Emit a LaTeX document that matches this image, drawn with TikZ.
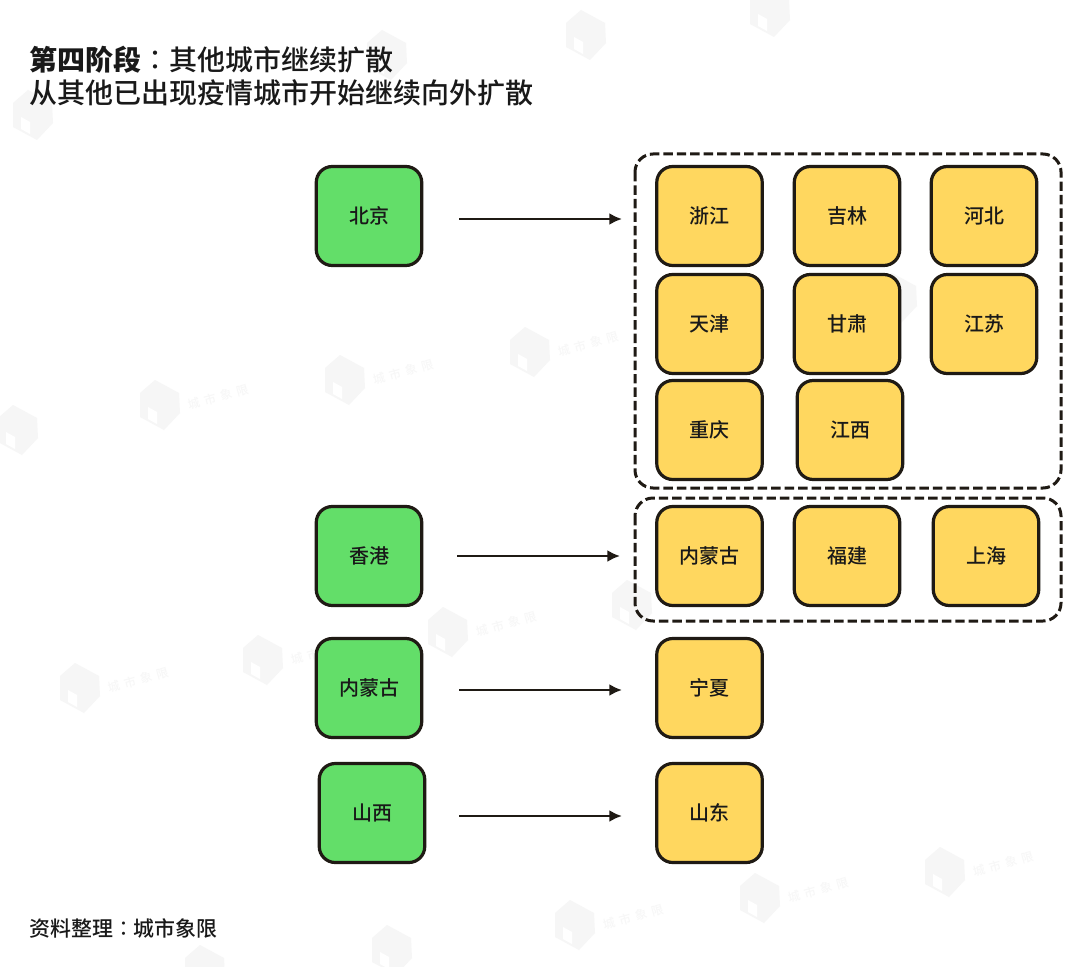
\documentclass[tikz,border=0pt]{standalone}
\usepackage{fontspec}
\setmainfont{Noto Sans CJK SC Medium}
\newfontfamily\cjkbold{Noto Sans CJK SC Black}
\newfontfamily\cjkcolon{Noto Sans CJK TC}
\usetikzlibrary{arrows.meta}
\definecolor{boxline}{HTML}{1F1A14}
\definecolor{ygfill}{HTML}{FFD75F}
\definecolor{grfill}{HTML}{63DE69}
\definecolor{wmark}{HTML}{F6F6F6}
\definecolor{wtext}{HTML}{F7F7F7}
\tikzset{
  cell/.style={draw=boxline,line width=3.2*0.75pt,rounded corners=16*0.75pt,minimum width=105.5*0.75pt,minimum height=99*0.75pt,inner sep=0pt,font=\fontsize{15}{15}\selectfont,text=black!90},
  dest/.style={cell,fill=ygfill},
  src/.style={cell,fill=grfill},
  grp/.style={draw=boxline,line width=3*0.75pt,dash pattern=on 7.1pt off 3pt,rounded corners=18*0.75pt},
  link/.style={draw=boxline,line width=2.9*0.75pt,-{Latex[length=9.5pt,width=9pt]}},
  house/.pic={
    \fill[wmark] (-5,-25) -- (19,-12) -- (20,8) -- (4,25) -- (-20,12) -- (-20,-12) -- cycle;
    \fill[white] (-12,2) -- (-3,7) -- (-3,19) -- (-12,14) -- cycle;
  },
  wm/.pic={
    \pic {house};
    \node[rotate=15,text=wtext,font=\fontsize{9}{9}\selectfont,inner sep=0pt] at (58,-8) {城\hspace{3.5pt}市\hspace{3.5pt}象\hspace{3.5pt}限};
  }
}
\begin{document}
\begin{tikzpicture}[x=0.75pt,y=-0.75pt]
\useasboundingbox (0,0) rectangle (1080,966);
\fill[white] (0,0) rectangle (1080,966);
% watermarks
\foreach \p/\q in {345/380,530/352,160/405,80/688,263/660,448/632,945/872,760/898,575/925}{
  \pic at (\p,\q) {wm};
}
\foreach \p/\q in {586/35,770/12,33/115,387/55,18/430,632/605,815/578,1000/550,712/325,897/298,392/950,205/970}{
  \pic at (\p,\q) {house};
}
% title
\node[anchor=west,inner sep=0pt,font=\fontsize{21}{21}\selectfont,text=black!90] (t1) at (29,60) {{\cjkbold 第四阶段}{\cjkcolon ：}其他城市继续扩散};
\node[anchor=west,inner sep=0pt,font=\fontsize{21}{21}\selectfont,text=black!90] (t2) at (29,93) {从其他已出现疫情城市开始继续向外扩散};
\node[anchor=west,inner sep=0pt,font=\fontsize{15.7}{16}\selectfont,text=black!90] (foot) at (29,928) {资料整理{\cjkcolon ：}城市象限};
% groups
\draw[grp] (635,154) rectangle (1061,488);
\draw[grp] (635,498) rectangle (1061,621);
\coordinate (g1in) at (622,219);
\coordinate (g2in) at (620,556);
% sources
\node[src] (bj) at (369,216) {北京};
\node[src] (hk) at (369,556) {香港};
\node[src] (nm) at (369,688) {内蒙古};
\node[src] (sx) at (372,813) {山西};
% destinations
\node[dest] (zj) at (709.5,216) {浙江};
\node[dest] (jl) at (847,216) {吉林};
\node[dest] (hb) at (984,216) {河北};
\node[dest] (tj) at (709.5,324) {天津};
\node[dest] (gs) at (847,324) {甘肃};
\node[dest] (js) at (984,324) {江苏};
\node[dest] (cq) at (709.5,430) {重庆};
\node[dest] (jx) at (850,430) {江西};
\node[dest] (nm2) at (709.5,556) {内蒙古};
\node[dest] (fj) at (847,556) {福建};
\node[dest] (sh) at (986,556) {上海};
\node[dest] (nx) at (709.5,688) {宁夏};
\node[dest] (sd) at (709.5,813) {山东};
% arrows
\coordinate (a1) at (459,219);
\coordinate (a2) at (457,556);
\coordinate (a3) at (459,690);
\coordinate (a4) at (459,816);
\coordinate (b3) at (622,690);
\coordinate (b4) at (622,816);
\draw[link] (a1) -- (g1in);
\draw[link] (a2) -- (g2in);
\draw[link] (a3) -- (b3);
\draw[link] (a4) -- (b4);
\end{tikzpicture}
\end{document}
